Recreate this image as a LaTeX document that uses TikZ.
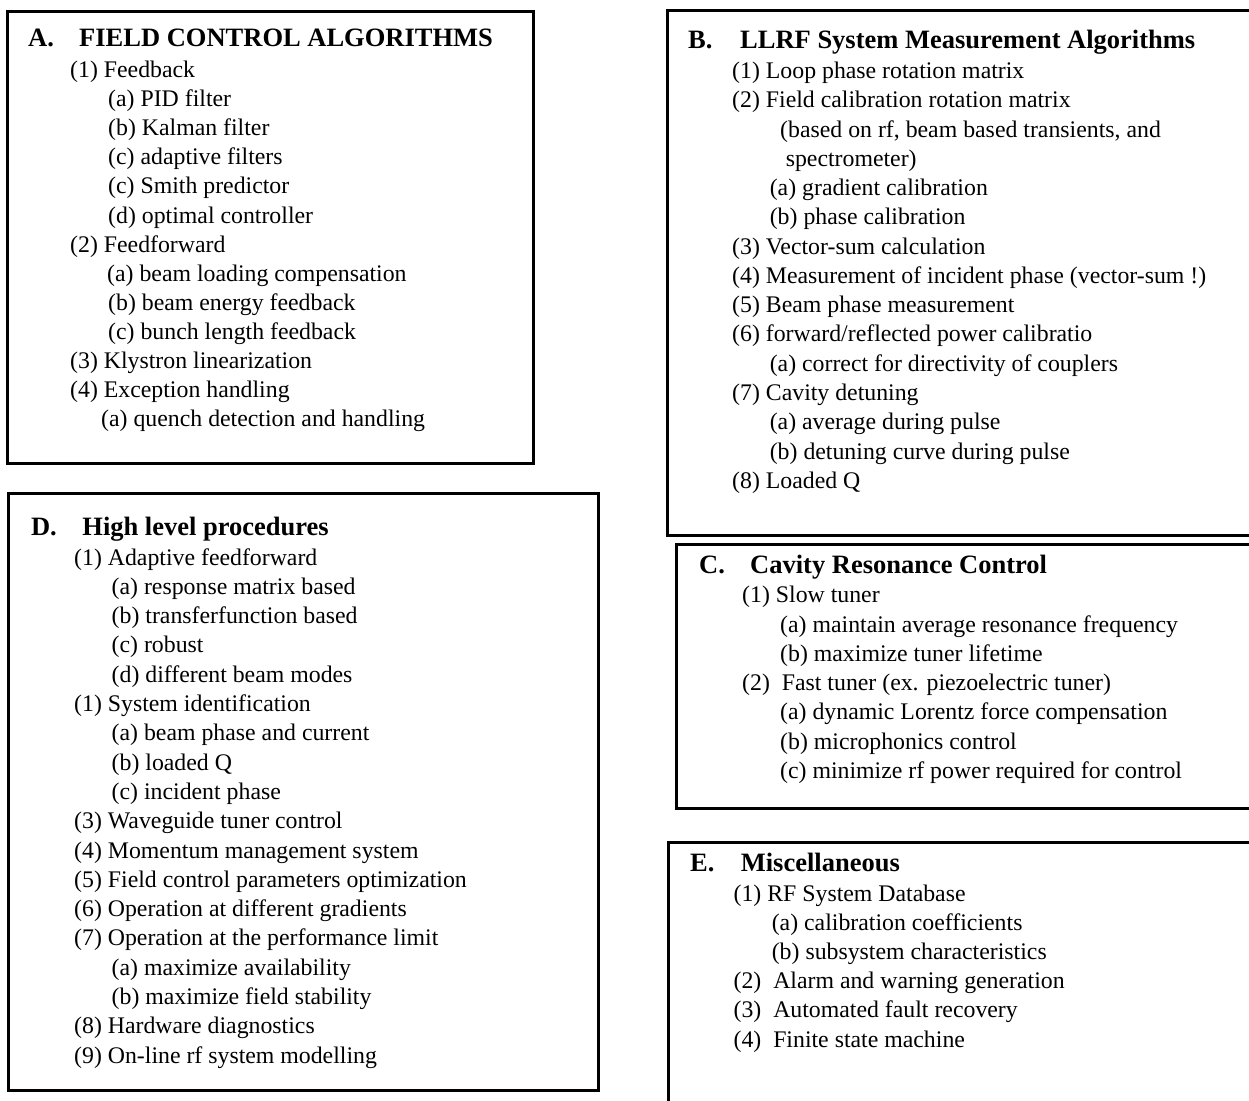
\documentclass[tikz,border=0pt]{standalone}
\usepackage{fontspec}
\setmainfont{Liberation Serif}
\newcommand{\bodyfs}{\fontsize{23.8}{28}\selectfont}
\newcommand{\headfs}{\fontsize{26.5}{30}\selectfont\bfseries}
\begin{document}
\begin{tikzpicture}[x=1pt,y=-1pt,
  itm/.style={anchor=base west,inner sep=0pt,font=\bodyfs},
  hd/.style={anchor=base west,inner sep=0pt,font=\headfs},
  frame/.style={line width=3pt,line join=miter}]
\useasboundingbox (0,0) rectangle (1249,1100);
% frames
\draw[frame] (7,11) rectangle (533,463);
\draw[frame] (667,10) rectangle (1262,535);
\draw[frame] (676,544) rectangle (1262,808);
\draw[frame] (668,842) rectangle (1262,1112);
\draw[frame] (8,493) rectangle (598,1090);
% Box A
\node[hd] (aL) at (28,46.7) {A.};
\node[hd] (aT) at (79,46.7) {FIELD CONTROL ALGORITHMS};
\node[itm] (a0) at (70,77.5) {(1) Feedback};
\node[itm] (a1) at (108,106.6) {(a) PID filter};
\node[itm] (a2) at (108,135.7) {(b) Kalman filter};
\node[itm] (a3) at (108,164.8) {(c) adaptive filters};
\node[itm] (a4) at (108,193.9) {(c) Smith predictor};
\node[itm] (a5) at (108,223) {(d) optimal controller};
\node[itm] (a6) at (70,252.1) {(2) Feedforward};
\node[itm] (a7) at (107,281.2) {(a) beam loading compensation};
\node[itm] (a8) at (108,310.3) {(b) beam energy feedback};
\node[itm] (a9) at (108,339.4) {(c) bunch length feedback};
\node[itm] (a10) at (70,368.5) {(3) Klystron linearization};
\node[itm] (a11) at (70,397.6) {(4) Exception handling};
\node[itm] (a12) at (101,426.7) {(a) quench detection and handling};
% Box B
\node[hd] (bL) at (688,48) {B.};
\node[hd] (bT) at (740,48) {LLRF System Measurement Algorithms};
\node[itm] (b0) at (732,78.6) {(1) Loop phase rotation matrix};
\node[itm] (b1) at (732,107.9) {(2) Field calibration rotation matrix};
\node[itm] (b2) at (780,137.1) {(based on rf, beam based transients, and};
\node[itm] (b3) at (785.6,166.4) {spectrometer)};
\node[itm] (b4) at (769.6,195.6) {(a) gradient calibration};
\node[itm] (b5) at (769.6,224.9) {(b) phase calibration};
\node[itm] (b6) at (732,254.2) {(3) Vector-sum calculation};
\node[itm] (b7) at (732,283.4) {(4) Measurement of incident phase (vector-sum !)};
\node[itm] (b8) at (732,312.7) {(5) Beam phase measurement};
\node[itm] (b9) at (732,341.9) {(6) forward/reflected power calibratio};
\node[itm] (b10) at (769.6,371.2) {(a) correct for directivity of couplers};
\node[itm] (b11) at (732,400.5) {(7) Cavity detuning};
\node[itm] (b12) at (769.6,429.7) {(a) average during pulse};
\node[itm] (b13) at (769.6,459) {(b) detuning curve during pulse};
\node[itm] (b14) at (732,488.2) {(8) Loaded Q};
% Box C
\node[hd] (cL) at (699,573) {C.};
\node[hd] (cT) at (750,573) {Cavity Resonance Control};
\node[itm] (c0) at (742,602.7) {(1) Slow tuner};
\node[itm] (c1) at (780,632) {(a) maintain average resonance frequency};
\node[itm] (c2) at (780,661.3) {(b) maximize tuner lifetime};
\node[itm] (c3) at (742,690.6) {(2)\ \ Fast tuner (ex. piezoelectric tuner)};
\node[itm] (c4) at (780,719.9) {(a) dynamic Lorentz force compensation};
\node[itm] (c5) at (780,749.2) {(b) microphonics control};
\node[itm] (c6) at (780,778.5) {(c) minimize rf power required for control};
% Box E
\node[hd] (eL) at (690,871) {E.};
\node[hd] (eT) at (740.6,871) {Miscellaneous};
\node[itm] (e0) at (733.4,901) {(1) RF System Database};
\node[itm] (e1) at (771.6,930) {(a) calibration coefficients};
\node[itm] (e2) at (771.6,959.3) {(b) subsystem characteristics};
\node[itm] (e3) at (733.4,988.6) {(2)\ \ Alarm and warning generation};
\node[itm] (e4) at (733.4,1017.9) {(3)\ \ Automated fault recovery};
\node[itm] (e5) at (733.4,1047.2) {(4)\ \ Finite state machine};
% Box D
\node[hd] (dL) at (30.8,535.3) {D.};
\node[hd] (dT) at (82.2,535.3) {High level procedures};
\node[itm] (d0) at (74,565) {(1) Adaptive feedforward};
\node[itm] (d1) at (111.5,594.3) {(a) response matrix based};
\node[itm] (d2) at (111.5,623.6) {(b) transferfunction based};
\node[itm] (d3) at (111.5,652.9) {(c) robust};
\node[itm] (d4) at (111.5,682.2) {(d) different beam modes};
\node[itm] (d5) at (74,711.5) {(1) System identification};
\node[itm] (d6) at (111.5,740.8) {(a) beam phase and current};
\node[itm] (d7) at (111.5,770.1) {(b) loaded Q};
\node[itm] (d8) at (111.5,799.4) {(c) incident phase};
\node[itm] (d9) at (74,828.7) {(3) Waveguide tuner control};
\node[itm] (d10) at (74,858) {(4) Momentum management system};
\node[itm] (d11) at (74,887.3) {(5) Field control parameters optimization};
\node[itm] (d12) at (74,916.6) {(6) Operation at different gradients};
\node[itm] (d13) at (74,945.9) {(7) Operation at the performance limit};
\node[itm] (d14) at (111.5,975.2) {(a) maximize availability};
\node[itm] (d15) at (111.5,1004.5) {(b) maximize field stability};
\node[itm] (d16) at (74,1033.8) {(8) Hardware diagnostics};
\node[itm] (d17) at (74,1063.1) {(9) On-line rf system modelling};
\end{tikzpicture}
\end{document}
